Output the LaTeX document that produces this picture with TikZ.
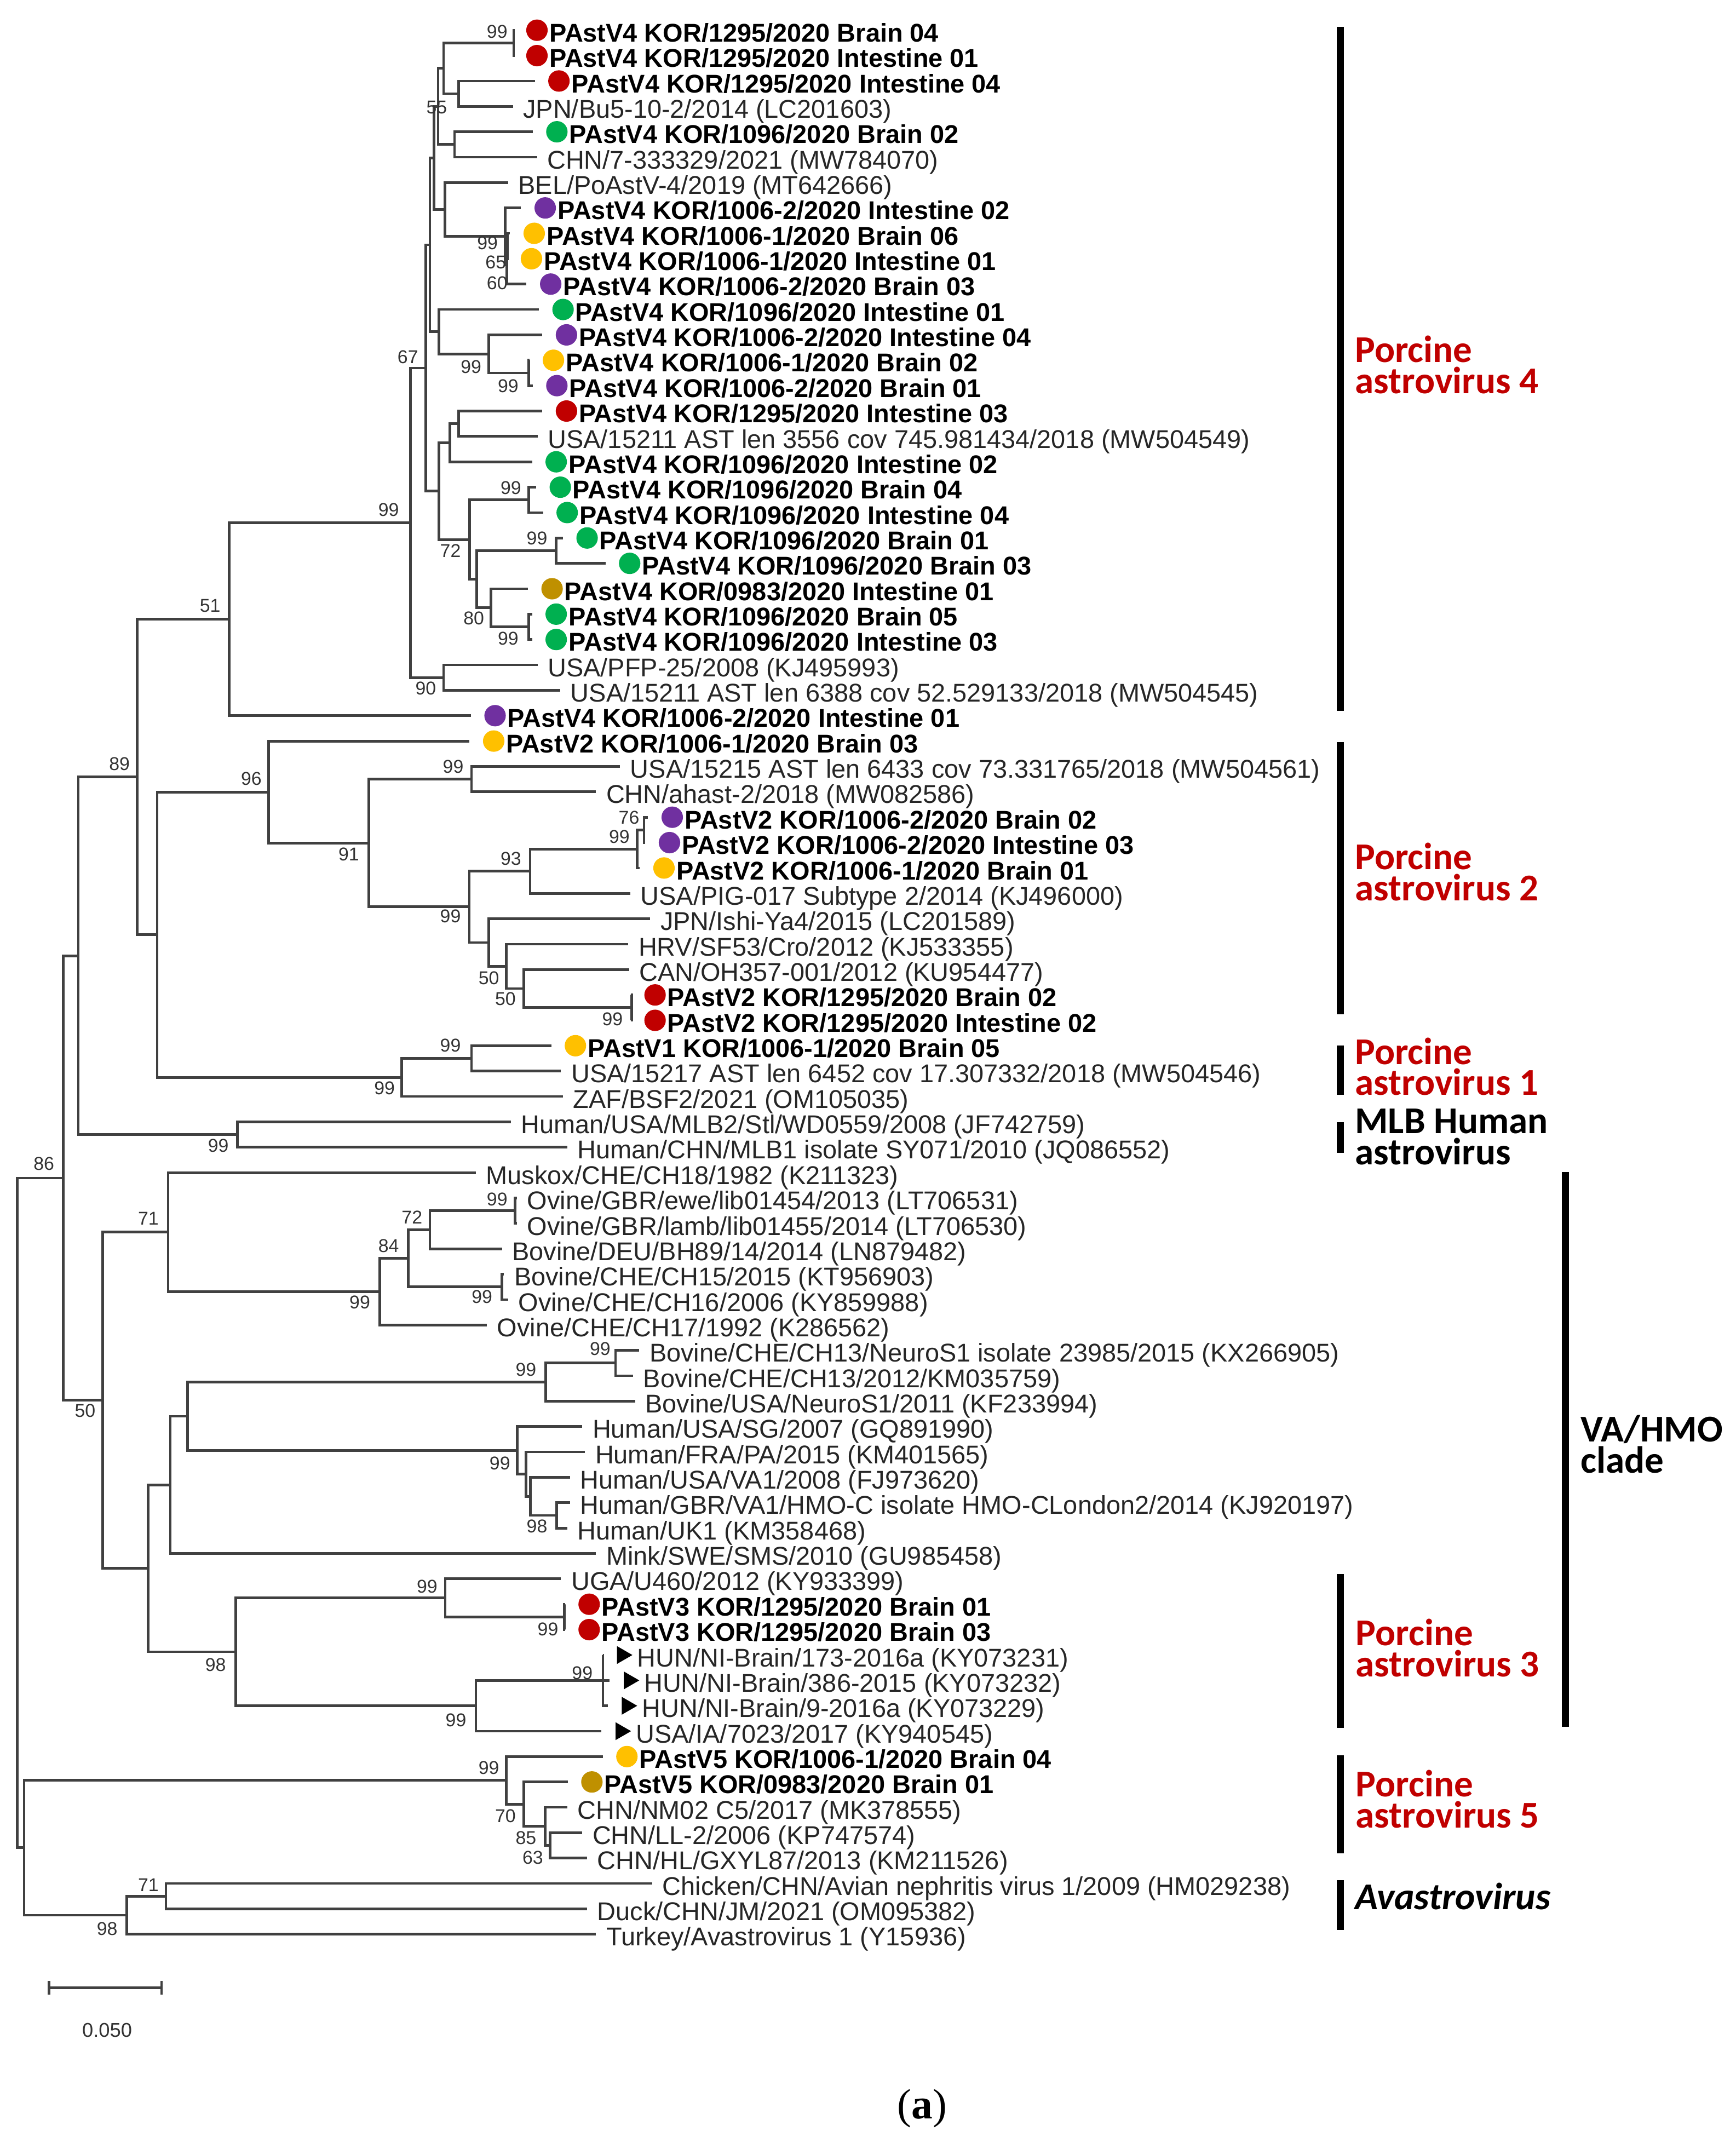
\documentclass[tikz,border=0pt]{standalone}
\usepackage{fontspec}
\setmainfont{Liberation Sans}
\newfontfamily\cladefont{Carlito}
\newfontfamily\capfont{Liberation Serif}
\usepackage{tikz}
\usetikzlibrary{positioning,shapes.geometric}
\definecolor{cred}{HTML}{C00000}
\definecolor{cgreen}{HTML}{00B050}
\definecolor{cpurple}{HTML}{7030A0}
\definecolor{cyellow}{HTML}{FFC000}
\definecolor{colive}{HTML}{BF9000}

\begin{document}
\begin{tikzpicture}[
    x=0.025cm, y=-0.462cm,
    br/.style={draw=black!75, line width=1.35pt},
    gap/.style={br, shorten >=0.2375cm},
    trigap/.style={br, shorten >=0.25cm},
    dot/.style={circle, inner sep=0pt, minimum size=0.39cm},
    tri/.style={regular polygon, regular polygon sides=3, shape border rotate=-90, fill=black, inner sep=0pt, minimum size=0.375cm},
    nm/.style={anchor=west, inner xsep=0.18cm, inner ysep=0pt, text height=12pt, text depth=0pt, text=black!85, font=\fontsize{13.3}{13.3}\selectfont},
    tn/.style={nm, inner xsep=0.5pt},
    bn/.style={nm, inner xsep=0.5pt, text=black, font=\fontsize{13.3}{13.3}\selectfont\bfseries},
    bs/.style={inner sep=0pt, text=black!80, font=\fontsize{9.6}{9.6}\selectfont},
    clade/.style={anchor=base west, align=left, inner sep=0pt, text=cred, font=\cladefont\fontsize{19.6}{16.1}\selectfont\bfseries},
    bar/.style={line width=3.6pt}
]
    \useasboundingbox (0,-0.1905) rectangle (1264,84.656);

    \node[dot, fill=cred] (d1) at (391,1) {};
    \node[bn, right=0pt of d1] (t1) {PAstV4 KOR/1295/2020 Brain 04};
    \node[dot, fill=cred] (d2) at (391,2) {};
    \node[bn, right=0pt of d2] (t2) {PAstV4 KOR/1295/2020 Intestine 01};
    \node[dot, fill=cred] (d3) at (407,3) {};
    \node[bn, right=0pt of d3] (t3) {PAstV4 KOR/1295/2020 Intestine 04};
    \node[nm] (t4) at (373.5,4) {JPN/Bu5-10-2/2014 (LC201603)};
    \node[dot, fill=cgreen] (d5) at (405.5,5) {};
    \node[bn, right=0pt of d5] (t5) {PAstV4 KOR/1096/2020 Brain 02};
    \node[nm] (t6) at (391,6) {CHN/7-333329/2021 (MW784070)};
    \node[nm] (t7) at (370,7) {BEL/PoAstV-4/2019 (MT642666)};
    \node[dot, fill=cpurple] (d8) at (397,8) {};
    \node[bn, right=0pt of d8] (t8) {PAstV4 KOR/1006-2/2020 Intestine 02};
    \node[dot, fill=cyellow] (d9) at (389,9) {};
    \node[bn, right=0pt of d9] (t9) {PAstV4 KOR/1006-1/2020 Brain 06};
    \node[dot, fill=cyellow] (d10) at (387,10) {};
    \node[bn, right=0pt of d10] (t10) {PAstV4 KOR/1006-1/2020 Intestine 01};
    \node[dot, fill=cpurple] (d11) at (401,11) {};
    \node[bn, right=0pt of d11] (t11) {PAstV4 KOR/1006-2/2020 Brain 03};
    \node[dot, fill=cgreen] (d12) at (410,12) {};
    \node[bn, right=0pt of d12] (t12) {PAstV4 KOR/1096/2020 Intestine 01};
    \node[dot, fill=cpurple] (d13) at (412.5,13) {};
    \node[bn, right=0pt of d13] (t13) {PAstV4 KOR/1006-2/2020 Intestine 04};
    \node[dot, fill=cyellow] (d14) at (403,14) {};
    \node[bn, right=0pt of d14] (t14) {PAstV4 KOR/1006-1/2020 Brain 02};
    \node[dot, fill=cpurple] (d15) at (405.5,15) {};
    \node[bn, right=0pt of d15] (t15) {PAstV4 KOR/1006-2/2020 Brain 01};
    \node[dot, fill=cred] (d16) at (412.5,16) {};
    \node[bn, right=0pt of d16] (t16) {PAstV4 KOR/1295/2020 Intestine 03};
    \node[nm] (t17) at (391.5,17) {USA/15211 AST len 3556 cov 745.981434/2018 (MW504549)};
    \node[dot, fill=cgreen] (d18) at (405,18) {};
    \node[bn, right=0pt of d18] (t18) {PAstV4 KOR/1096/2020 Intestine 02};
    \node[dot, fill=cgreen] (d19) at (408,19) {};
    \node[bn, right=0pt of d19] (t19) {PAstV4 KOR/1096/2020 Brain 04};
    \node[dot, fill=cgreen] (d20) at (413,20) {};
    \node[bn, right=0pt of d20] (t20) {PAstV4 KOR/1096/2020 Intestine 04};
    \node[dot, fill=cgreen] (d21) at (427.5,21) {};
    \node[bn, right=0pt of d21] (t21) {PAstV4 KOR/1096/2020 Brain 01};
    \node[dot, fill=cgreen] (d22) at (458.5,22) {};
    \node[bn, right=0pt of d22] (t22) {PAstV4 KOR/1096/2020 Brain 03};
    \node[dot, fill=colive] (d23) at (402,23) {};
    \node[bn, right=0pt of d23] (t23) {PAstV4 KOR/0983/2020 Intestine 01};
    \node[dot, fill=cgreen] (d24) at (405,24) {};
    \node[bn, right=0pt of d24] (t24) {PAstV4 KOR/1096/2020 Brain 05};
    \node[dot, fill=cgreen] (d25) at (405,25) {};
    \node[bn, right=0pt of d25] (t25) {PAstV4 KOR/1096/2020 Intestine 03};
    \node[nm] (t26) at (391.5,26) {USA/PFP-25/2008 (KJ495993)};
    \node[nm] (t27) at (408,27) {USA/15211 AST len 6388 cov 52.529133/2018 (MW504545)};
    \node[dot, fill=cpurple] (d28) at (360.5,28) {};
    \node[bn, right=0pt of d28] (t28) {PAstV4 KOR/1006-2/2020 Intestine 01};
    \node[dot, fill=cyellow] (d29) at (359.5,29) {};
    \node[bn, right=0pt of d29] (t29) {PAstV2 KOR/1006-1/2020 Brain 03};
    \node[nm] (t30) at (451.5,30) {USA/15215 AST len 6433 cov 73.331765/2018 (MW504561)};
    \node[nm] (t31) at (434,31) {CHN/ahast-2/2018 (MW082586)};
    \node[dot, fill=cpurple] (d32) at (489.5,32) {};
    \node[bn, right=0pt of d32] (t32) {PAstV2 KOR/1006-2/2020 Brain 02};
    \node[dot, fill=cpurple] (d33) at (487.5,33) {};
    \node[bn, right=0pt of d33] (t33) {PAstV2 KOR/1006-2/2020 Intestine 03};
    \node[dot, fill=cyellow] (d34) at (483.5,34) {};
    \node[bn, right=0pt of d34] (t34) {PAstV2 KOR/1006-1/2020 Brain 01};
    \node[nm] (t35) at (459,35) {USA/PIG-017 Subtype 2/2014 (KJ496000)};
    \node[nm] (t36) at (473.5,36) {JPN/Ishi-Ya4/2015 (LC201589)};
    \node[nm] (t37) at (457.5,37) {HRV/SF53/Cro/2012 (KJ533355)};
    \node[nm] (t38) at (458,38) {CAN/OH357-001/2012 (KU954477)};
    \node[dot, fill=cred] (d39) at (477,39) {};
    \node[bn, right=0pt of d39] (t39) {PAstV2 KOR/1295/2020 Brain 02};
    \node[dot, fill=cred] (d40) at (477,40) {};
    \node[bn, right=0pt of d40] (t40) {PAstV2 KOR/1295/2020 Intestine 02};
    \node[dot, fill=cyellow] (d41) at (419,41) {};
    \node[bn, right=0pt of d41] (t41) {PAstV1 KOR/1006-1/2020 Brain 05};
    \node[nm] (t42) at (408.5,42) {USA/15217 AST len 6452 cov 17.307332/2018 (MW504546)};
    \node[nm] (t43) at (410,43) {ZAF/BSF2/2021 (OM105035)};
    \node[nm] (t44) at (372,44) {Human/USA/MLB2/Stl/WD0559/2008 (JF742759)};
    \node[nm] (t45) at (413,45) {Human/CHN/MLB1 isolate SY071/2010 (JQ086552)};
    \node[nm] (t46) at (346.5,46) {Muskox/CHE/CH18/1982 (K211323)};
    \node[nm] (t47) at (376.5,47) {Ovine/GBR/ewe/lib01454/2013 (LT706531)};
    \node[nm] (t48) at (376.5,48) {Ovine/GBR/lamb/lib01455/2014 (LT706530)};
    \node[nm] (t49) at (365.5,49) {Bovine/DEU/BH89/14/2014 (LN879482)};
    \node[nm] (t50) at (367,50) {Bovine/CHE/CH15/2015 (KT956903)};
    \node[nm] (t51) at (370,51) {Ovine/CHE/CH16/2006 (KY859988)};
    \node[nm] (t52) at (354.5,52) {Ovine/CHE/CH17/1992 (K286562)};
    \node[nm] (t53) at (465.5,53) {Bovine/CHE/CH13/NeuroS1 isolate 23985/2015 (KX266905)};
    \node[nm] (t54) at (461,54) {Bovine/CHE/CH13/2012/KM035759)};
    \node[nm] (t55) at (462.5,55) {Bovine/USA/NeuroS1/2011 (KF233994)};
    \node[nm] (t56) at (424,56) {Human/USA/SG/2007 (GQ891990)};
    \node[nm] (t57) at (426,57) {Human/FRA/PA/2015 (KM401565)};
    \node[nm] (t58) at (415,58) {Human/USA/VA1/2008 (FJ973620)};
    \node[nm] (t59) at (415,59) {Human/GBR/VA1/HMO-C isolate HMO-CLondon2/2014 (KJ920197)};
    \node[nm] (t60) at (413,60) {Human/UK1 (KM358468)};
    \node[nm] (t61) at (434,61) {Mink/SWE/SMS/2010 (GU985458)};
    \node[nm] (t62) at (408.5,62) {UGA/U460/2012 (KY933399)};
    \node[dot, fill=cred] (d63) at (429,63) {};
    \node[bn, right=0pt of d63] (t63) {PAstV3 KOR/1295/2020 Brain 01};
    \node[dot, fill=cred] (d64) at (429,64) {};
    \node[bn, right=0pt of d64] (t64) {PAstV3 KOR/1295/2020 Brain 03};
    \node[tri] (d65) at (453,65) {};
    \node[tn, right=0.05cm of d65] (t65) {HUN/NI-Brain/173-2016a (KY073231)};
    \node[tri] (d66) at (458,66) {};
    \node[tn, right=0.05cm of d66] (t66) {HUN/NI-Brain/386-2015 (KY073232)};
    \node[tri] (d67) at (456.5,67) {};
    \node[tn, right=0.05cm of d67] (t67) {HUN/NI-Brain/9-2016a (KY073229)};
    \node[tri] (d68) at (452,68) {};
    \node[tn, right=0.05cm of d68] (t68) {USA/IA/7023/2017 (KY940545)};
    \node[dot, fill=cyellow] (d69) at (456.5,69) {};
    \node[bn, right=0pt of d69] (t69) {PAstV5 KOR/1006-1/2020 Brain 04};
    \node[dot, fill=colive] (d70) at (431,70) {};
    \node[bn, right=0pt of d70] (t70) {PAstV5 KOR/0983/2020 Brain 01};
    \node[nm] (t71) at (413,71) {CHN/NM02 C5/2017 (MK378555)};
    \node[nm] (t72) at (424,72) {CHN/LL-2/2006 (KP747574)};
    \node[nm] (t73) at (427.5,73) {CHN/HL/GXYL87/2013 (KM211526)};
    \node[nm] (t74) at (475,74) {Chicken/CHN/Avian nephritis virus 1/2009 (HM029238)};
    \node[nm] (t75) at (427.5,75) {Duck/CHN/JM/2021 (OM095382)};
    \node[nm] (t76) at (434,76) {Turkey/Avastrovirus 1 (Y15936)};

    \coordinate (c12) at (374,1.5);
    \coordinate (c34) at (334,3.5);
    \coordinate (c14) at (323,2.5);
    \coordinate (c56) at (331,5.5);
    \coordinate (c16) at (319,4);
    \coordinate (c910) at (369.5,9.5);
    \coordinate (c911) at (369,10.25);
    \coordinate (c811) at (368,9.125);
    \coordinate (c711) at (324,8.0625);
    \coordinate (c111) at (316,6.03125);
    \coordinate (c1415) at (385,14.5);
    \coordinate (c1315) at (356,13.75);
    \coordinate (c1215) at (319.5,12.875);
    \coordinate (c115) at (313,9.453);
    \coordinate (c1617) at (334,16.5);
    \coordinate (c1618) at (327.5,17.25);
    \coordinate (c1920) at (385,19.5);
    \coordinate (c2122) at (405,21.5);
    \coordinate (c2425) at (385,24.5);
    \coordinate (c2325) at (357.6,23.75);
    \coordinate (c2125) at (347,22.625);
    \coordinate (c1925) at (342,21.0625);
    \coordinate (c1625) at (319.5,19.156);
    \coordinate (c125) at (310,14.305);
    \coordinate (c2627) at (323,26.5);
    \coordinate (c127) at (299,20.40);
    \coordinate (c128) at (167,24.20);
    \coordinate (c3031) at (343.3,30.5);
    \coordinate (c3233) at (469,32.5);
    \coordinate (c3234) at (464,33.25);
    \coordinate (c3235) at (386,34.125);
    \coordinate (c3940) at (460,39.5);
    \coordinate (c3840) at (381.4,38.75);
    \coordinate (c3740) at (368.7,37.875);
    \coordinate (c3640) at (356,36.9375);
    \coordinate (c3240) at (341.7,35.531);
    \coordinate (c3040) at (268.6,33.016);
    \coordinate (c2940) at (195.5,31.008);
    \coordinate (c4142) at (343.3,41.5);
    \coordinate (c4143) at (292.4,42.25);
    \coordinate (c2943) at (114.4,36.629);
    \coordinate (c143) at (100,30.41);
    \coordinate (c4445) at (173,44.5);
    \coordinate (c145) at (57,37.46);
    \coordinate (c4748) at (375,47.5);
    \coordinate (c4749) at (313,48.25);
    \coordinate (c5051) at (365.5,50.5);
    \coordinate (c4751) at (297.2,49.375);
    \coordinate (c4752) at (276.5,50.6875);
    \coordinate (c4652) at (122.4,48.34);
    \coordinate (c5354) at (448.2,53.5);
    \coordinate (c5355) at (397.3,54.25);
    \coordinate (c5960) at (405.3,59.5);
    \coordinate (c5860) at (386.2,58.75);
    \coordinate (c5760) at (383,57.875);
    \coordinate (c5660) at (376.7,56.9375);
    \coordinate (c5360) at (136.7,55.594);
    \coordinate (c5361) at (124,58.297);
    \coordinate (c6364) at (411,63.5);
    \coordinate (c6264) at (324.2,62.75);
    \coordinate (c6567) at (439,66);
    \coordinate (c6568) at (346.5,67);
    \coordinate (c6268) at (171.6,64.875);
    \coordinate (c5368) at (108,61.586);
    \coordinate (c4668) at (74.7,54.963);
    \coordinate (c168) at (46,46.21);
    \coordinate (c7273) at (400.5,72.5);
    \coordinate (c7173) at (397,71.75);
    \coordinate (c7073) at (381.4,70.875);
    \coordinate (c6973) at (368.7,69.9375);
    \coordinate (c7475) at (120.8,74.5);
    \coordinate (c7476) at (92.2,75.25);
    \coordinate (c6976) at (17.5,72.59);
    \coordinate (root) at (12.7,59.4);

    \draw[gap] (c12) |- (d1.west);
    \draw[gap] (c12) |- (d2.west);
    \draw[gap] (c34) |- (d3.west);
    \draw[br] (c34) |- (t4.west);
    \draw[br] (c14) |- (c12) (c14) |- (c34);
    \draw[gap] (c56) |- (d5.west);
    \draw[br] (c56) |- (t6.west);
    \draw[br] (c16) |- (c14) (c16) |- (c56);
    \draw[gap] (c910) |- (d9.west);
    \draw[gap] (c910) |- (d10.west);
    \draw[gap] (c911) |- (d11.west);
    \draw[br] (c911) |- (c910);
    \draw[gap] (c811) |- (d8.west);
    \draw[br] (c811) |- (c911);
    \draw[br] (c711) |- (t7.west) (c711) |- (c811);
    \draw[br] (c111) |- (c16) (c111) |- (c711);
    \draw[gap] (c1415) |- (d14.west);
    \draw[gap] (c1415) |- (d15.west);
    \draw[gap] (c1315) |- (d13.west);
    \draw[br] (c1315) |- (c1415);
    \draw[gap] (c1215) |- (d12.west);
    \draw[br] (c1215) |- (c1315);
    \draw[br] (c115) |- (c111) (c115) |- (c1215);
    \draw[gap] (c1617) |- (d16.west);
    \draw[br] (c1617) |- (t17.west);
    \draw[gap] (c1618) |- (d18.west);
    \draw[br] (c1618) |- (c1617);
    \draw[gap] (c1920) |- (d19.west);
    \draw[gap] (c1920) |- (d20.west);
    \draw[gap] (c2122) |- (d21.west);
    \draw[gap] (c2122) |- (d22.west);
    \draw[gap] (c2425) |- (d24.west);
    \draw[gap] (c2425) |- (d25.west);
    \draw[gap] (c2325) |- (d23.west);
    \draw[br] (c2325) |- (c2425);
    \draw[br] (c2125) |- (c2122) (c2125) |- (c2325);
    \draw[br] (c1925) |- (c1920) (c1925) |- (c2125);
    \draw[br] (c1625) |- (c1618) (c1625) |- (c1925);
    \draw[br] (c125) |- (c115) (c125) |- (c1625);
    \draw[br] (c2627) |- (t26.west) (c2627) |- (t27.west);
    \draw[br] (c127) |- (c125) (c127) |- (c2627);
    \draw[br] (c128) |- (c127);
    \draw[gap] (c128) |- (d28.west);
    \draw[br] (c3031) |- (t30.west) (c3031) |- (t31.west);
    \draw[gap] (c3233) |- (d32.west);
    \draw[gap] (c3233) |- (d33.west);
    \draw[gap] (c3234) |- (d34.west);
    \draw[br] (c3234) |- (c3233);
    \draw[br] (c3235) |- (c3234) (c3235) |- (t35.west);
    \draw[gap] (c3940) |- (d39.west);
    \draw[gap] (c3940) |- (d40.west);
    \draw[br] (c3840) |- (t38.west) (c3840) |- (c3940);
    \draw[br] (c3740) |- (t37.west) (c3740) |- (c3840);
    \draw[br] (c3640) |- (t36.west) (c3640) |- (c3740);
    \draw[br] (c3240) |- (c3235) (c3240) |- (c3640);
    \draw[br] (c3040) |- (c3031) (c3040) |- (c3240);
    \draw[br] (c2940) |- (c3040);
    \draw[gap] (c2940) |- (d29.west);
    \draw[gap] (c4142) |- (d41.west);
    \draw[br] (c4142) |- (t42.west);
    \draw[br] (c4143) |- (c4142) (c4143) |- (t43.west);
    \draw[br] (c2943) |- (c2940) (c2943) |- (c4143);
    \draw[br] (c143) |- (c128) (c143) |- (c2943);
    \draw[br] (c4445) |- (t44.west) (c4445) |- (t45.west);
    \draw[br] (c145) |- (c143) (c145) |- (c4445);
    \draw[br] (c4748) |- (t47.west) (c4748) |- (t48.west);
    \draw[br] (c4749) |- (c4748) (c4749) |- (t49.west);
    \draw[br] (c5051) |- (t50.west) (c5051) |- (t51.west);
    \draw[br] (c4751) |- (c4749) (c4751) |- (c5051);
    \draw[br] (c4752) |- (c4751) (c4752) |- (t52.west);
    \draw[br] (c4652) |- (t46.west) (c4652) |- (c4752);
    \draw[br] (c5354) |- (t53.west) (c5354) |- (t54.west);
    \draw[br] (c5355) |- (c5354) (c5355) |- (t55.west);
    \draw[br] (c5960) |- (t59.west) (c5960) |- (t60.west);
    \draw[br] (c5860) |- (t58.west) (c5860) |- (c5960);
    \draw[br] (c5760) |- (t57.west) (c5760) |- (c5860);
    \draw[br] (c5660) |- (t56.west) (c5660) |- (c5760);
    \draw[br] (c5360) |- (c5355) (c5360) |- (c5660);
    \draw[br] (c5361) |- (c5360) (c5361) |- (t61.west);
    \draw[gap] (c6364) |- (d63.west);
    \draw[gap] (c6364) |- (d64.west);
    \draw[br] (c6264) |- (t62.west) (c6264) |- (c6364);
    \draw[trigap] (c6567) |- (d65.west);
    \draw[trigap] (c6567) |- (d66.west);
    \draw[trigap] (c6567) |- (d67.west);
    \draw[trigap] (c6568) |- (d68.west);
    \draw[br] (c6568) |- (c6567);
    \draw[br] (c6268) |- (c6264) (c6268) |- (c6568);
    \draw[br] (c5368) |- (c5361) (c5368) |- (c6268);
    \draw[br] (c4668) |- (c4652) (c4668) |- (c5368);
    \draw[br] (c168) |- (c145) (c168) |- (c4668);
    \draw[br] (c7273) |- (t72.west) (c7273) |- (t73.west);
    \draw[br] (c7173) |- (t71.west) (c7173) |- (c7273);
    \draw[gap] (c7073) |- (d70.west);
    \draw[br] (c7073) |- (c7173);
    \draw[gap] (c6973) |- (d69.west);
    \draw[br] (c6973) |- (c7073);
    \draw[br] (c7475) |- (t74.west) (c7475) |- (t75.west);
    \draw[br] (c7476) |- (c7475) (c7476) |- (t76.west);
    \draw[br] (c6976) |- (c6973) (c6976) |- (c7476);
    \draw[br] (root) |- (c168) (root) |- (c6976);

    \node[bs] (b1) at (362,1.05) {99};
    \node[bs] (b2) at (318,4.03) {55};
    \node[bs] (b3) at (355,9.39) {99};
    \node[bs] (b4) at (361,10.15) {65};
    \node[bs] (b5) at (362,10.96) {60};
    \node[bs] (b6) at (297,13.88) {67};
    \node[bs] (b7) at (343,14.26) {99};
    \node[bs] (b8) at (370,15.02) {99};
    \node[bs] (b9) at (372,19.02) {99};
    \node[bs] (b10) at (328,21.51) {72};
    \node[bs] (b11) at (391,21.02) {99};
    \node[bs] (b12) at (283,19.89) {99};
    \node[bs] (b13) at (345,24.16) {80};
    \node[bs] (b14) at (370,24.97) {99};
    \node[bs] (b15) at (310,26.92) {90};
    \node[bs] (b16) at (153,23.67) {51};
    \node[bs] (b17) at (87,29.90) {89};
    \node[bs] (b18) at (183,30.49) {96};
    \node[bs] (b19) at (330,30.00) {99};
    \node[bs] (b20) at (254,33.47) {91};
    \node[bs] (b21) at (458,32.01) {76};
    \node[bs] (b22) at (451,32.76) {99};
    \node[bs] (b23) at (372,33.63) {93};
    \node[bs] (b24) at (328,35.90) {99};
    \node[bs] (b25) at (356,38.34) {50};
    \node[bs] (b26) at (368,39.15) {50};
    \node[bs] (b27) at (446,39.96) {99};
    \node[bs] (b28) at (328,40.99) {99};
    \node[bs] (b29) at (280,42.67) {99};
    \node[bs] (b30) at (159,44.94) {99};
    \node[bs] (b31) at (32,45.64) {86};
    \node[bs] (b32) at (108,47.81) {71};
    \node[bs] (b33) at (362,47.05) {99};
    \node[bs] (b34) at (300,47.75) {72};
    \node[bs] (b35) at (283,48.89) {84};
    \node[bs] (b36) at (351,50.89) {99};
    \node[bs] (b37) at (262,51.11) {99};
    \node[bs] (b38) at (437,52.95) {99};
    \node[bs] (b39) at (383,53.76) {99};
    \node[bs] (b40) at (62,55.38) {50};
    \node[bs] (b41) at (364,57.44) {99};
    \node[bs] (b42) at (391,59.93) {98};
    \node[bs] (b43) at (311,62.31) {99};
    \node[bs] (b44) at (399,63.99) {99};
    \node[bs] (b45) at (157,65.39) {98};
    \node[bs] (b46) at (424,65.72) {99};
    \node[bs] (b47) at (332,67.56) {99};
    \node[bs] (b48) at (356,69.45) {99};
    \node[bs] (b49) at (368,71.34) {70};
    \node[bs] (b50) at (383,72.21) {85};
    \node[bs] (b51) at (388,72.97) {63};
    \node[bs] (b52) at (108,74.05) {71};
    \node[bs] (b53) at (78,75.78) {98};

    \draw[bar] (976,0.87) -- (976,27.81);
    \draw[bar] (976,29.03) -- (976,39.77);
    \draw[bar] (976,40.99) -- (976,42.94);
    \draw[bar] (976,44.01) -- (976,45.21);
    \draw[bar] (1140,45.97) -- (1140,67.83);
    \draw[bar] (976,61.82) -- (976,67.88);
    \draw[bar] (976,68.96) -- (976,72.81);
    \draw[bar] (976,73.87) -- (976,75.84);

    \node[clade] (pa4) at (986.5,15.31) {Porcine\\astrovirus 4};
    \node[clade] (pa2) at (986.5,35.29) {Porcine\\astrovirus 2};
    \node[clade] (pa1) at (986.5,42.95) {Porcine\\astrovirus 1};
    \node[clade, text=black] (mlb) at (986.5,45.68) {MLB Human\\astrovirus};
    \node[clade, text=black] (vahmo) at (1150.8,57.82) {VA/HMO\\clade};
    \node[clade] (pa3) at (987,65.85) {Porcine\\astrovirus 3};
    \node[clade] (pa5) at (987,71.81) {Porcine\\astrovirus 5};
    \node[clade, text=black, font=\cladefont\fontsize{19.6}{16.1}\selectfont\bfseries\itshape] (ava) at (986.5,75.03) {Avastrovirus};

    \coordinate (sb0) at (35.6,78.11);
    \coordinate (sb1) at (117.6,78.11);
    \draw[br] (sb0) -- (sb1);
    \draw[br] ([yshift=0.125cm]sb0) -- ([yshift=-0.125cm]sb0);
    \draw[br] ([yshift=0.125cm]sb1) -- ([yshift=-0.125cm]sb1);
    \node[bs, font=\fontsize{10.3}{10.3}\selectfont] (sbl) at (78,79.79) {0.050};

    \node[anchor=base, inner sep=0pt, font=\capfont\fontsize{22}{22}\selectfont] (cap) at (671.5,83.27) {(\textbf{a})};
\end{tikzpicture}
\end{document}
